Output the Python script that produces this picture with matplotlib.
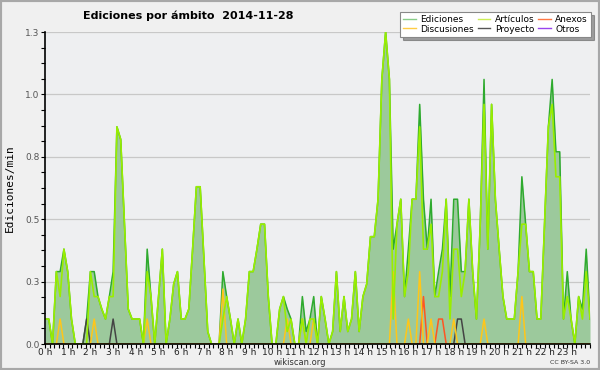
import numpy as np
import matplotlib
matplotlib.use('Agg')
import matplotlib.pyplot as plt
from matplotlib.patches import Rectangle
from matplotlib.ticker import MultipleLocator, FuncFormatter

# edits per minute, one sample every 10 minutes from 00:00 to 24:00
ediciones = [0.10, 0.10, 0, 0.29, 0.29, 0.38, 0.29, 0.10, 0, 0, 0, 0.10,
             0.29, 0.29, 0.19, 0.14, 0.10, 0.19, 0.29, 0.87, 0.82, 0.48, 0.14, 0.10,
             0.10, 0.10, 0, 0.38, 0.19, 0, 0.19, 0.38, 0, 0.10, 0.24, 0.29,
             0.10, 0.10, 0.14, 0.38, 0.63, 0.63, 0.34, 0.05, 0, 0, 0, 0.29,
             0.19, 0.10, 0, 0.10, 0, 0.10, 0.29, 0.29, 0.38, 0.48, 0.48, 0.19,
             0, 0, 0.14, 0.19, 0.14, 0.10, 0, 0, 0.19, 0.05, 0.10, 0.19,
             0, 0.19, 0.10, 0, 0.05, 0.29, 0.05, 0.19, 0.05, 0.10, 0.29, 0.05,
             0.19, 0.24, 0.43, 0.43, 0.58, 1.06, 1.25, 1.06, 0.38, 0.48, 0.58, 0.19,
             0.38, 0.58, 0.58, 0.96, 0.58, 0.38, 0.58, 0.19, 0.29, 0.38, 0.58, 0.19,
             0.58, 0.58, 0.29, 0.29, 0.58, 0.29, 0.10, 0.48, 1.06, 0.38, 0.96, 0.58,
             0.38, 0.19, 0.10, 0.10, 0.10, 0.29, 0.67, 0.48, 0.29, 0.29, 0.10, 0.10,
             0.48, 0.87, 1.06, 0.77, 0.77, 0.10, 0.29, 0.10, 0, 0.19, 0.14, 0.38,
             0.10]
articulos = [0.10, 0.10, 0, 0.29, 0.19, 0.38, 0.29, 0.10, 0, 0, 0, 0,
             0.29, 0.19, 0.19, 0.14, 0.10, 0.19, 0.19, 0.87, 0.82, 0.48, 0.14, 0.10,
             0.10, 0.10, 0, 0.29, 0.19, 0, 0.19, 0.38, 0, 0.10, 0.24, 0.29,
             0.10, 0.10, 0.14, 0.38, 0.63, 0.63, 0.34, 0.05, 0, 0, 0, 0.10,
             0.19, 0.10, 0, 0.10, 0, 0.10, 0.29, 0.29, 0.38, 0.48, 0.48, 0.19,
             0, 0, 0.14, 0.19, 0.05, 0.10, 0, 0, 0.10, 0, 0.10, 0.10,
             0, 0.19, 0.10, 0, 0.05, 0.29, 0.05, 0.19, 0.05, 0.10, 0.29, 0.05,
             0.19, 0.24, 0.43, 0.43, 0.58, 1.06, 1.25, 1.06, 0.10, 0.48, 0.58, 0.19,
             0.29, 0.58, 0.58, 0.87, 0.38, 0.38, 0.48, 0.19, 0.19, 0.29, 0.58, 0.10,
             0.38, 0.38, 0.19, 0.29, 0.58, 0.29, 0.10, 0.48, 0.96, 0.38, 0.96, 0.58,
             0.38, 0.19, 0.10, 0.10, 0.10, 0.29, 0.48, 0.48, 0.29, 0.29, 0.10, 0.10,
             0.48, 0.87, 0.96, 0.67, 0.67, 0.10, 0.19, 0.10, 0, 0.19, 0.10, 0.29,
             0.10]
discusiones = [0, 0, 0, 0, 0.10, 0, 0, 0, 0, 0, 0, 0,
               0, 0.10, 0, 0, 0, 0, 0, 0, 0, 0, 0, 0,
               0, 0, 0, 0.10, 0, 0, 0, 0, 0, 0, 0, 0,
               0, 0, 0, 0, 0, 0, 0, 0, 0, 0, 0, 0.22,
               0, 0, 0, 0, 0, 0, 0, 0, 0, 0, 0, 0,
               0, 0, 0, 0, 0.10, 0, 0, 0, 0.10, 0, 0, 0.10,
               0, 0, 0, 0, 0, 0, 0, 0, 0, 0, 0, 0,
               0, 0, 0, 0, 0, 0, 0, 0, 0.29, 0, 0, 0,
               0.10, 0, 0, 0.29, 0, 0, 0.10, 0, 0, 0, 0, 0,
               0.10, 0, 0, 0, 0, 0, 0, 0, 0.10, 0, 0, 0,
               0, 0, 0, 0, 0, 0, 0.19, 0, 0, 0, 0, 0,
               0, 0, 0, 0, 0, 0, 0, 0, 0, 0, 0, 0,
               0]
anexos = [0] * 100 + [0.19, 0, 0, 0, 0.10, 0.10] + [0] * 39
proyecto = ([0] * 11 + [0.10] + [0] * 6 + [0.10] + [0] * 90 + [0.10, 0.10] + [0] * 34)
otros = [0] * 145

hours = np.arange(len(ediciones)) / 6.0
hour_labels = ['%d h' % h for h in range(24)]

fig = plt.figure(figsize=(6, 3.7), dpi=100, facecolor='#f0f0f0')
ax = fig.add_axes([45/600, 26/370, 545/600, 312/370])
ax.set_facecolor('#eeeff1')

ax.fill_between(hours, 0, ediciones, color='#9cc99c', lw=0)
ax.plot(hours, ediciones, color='#2eaa2e', lw=1.1, label='Ediciones')
ax.plot(hours, otros, color='#9944ee', lw=1.1, label='Otros')
ax.plot(hours, proyecto, color='#444444', lw=1.1, label='Proyecto')
ax.plot(hours, anexos, color='#ff5522', lw=1.1, label='Anexos')
ax.plot(hours, discusiones, color='#ffc619', lw=1.1, label='Discusiones')
ax.plot(hours, articulos, color='#99ee00', lw=1.2, label='Artículos')

ax.set_xlim(0, 24)
ax.set_ylim(0, 1.25)
ax.yaxis.set_major_locator(MultipleLocator(0.25))
ax.yaxis.set_minor_locator(MultipleLocator(0.0625))
ax.yaxis.set_major_formatter(FuncFormatter(lambda v, p: '%.1f' % (v + 1e-9)))
ax.set_xticks(range(24))
ax.set_xticklabels(hour_labels)
ax.xaxis.set_minor_locator(MultipleLocator(0.2))
ax.grid(axis='y', color='#c8c8c8', lw=0.9)
ax.set_axisbelow(True)
for s in ['top', 'right']:
    ax.spines[s].set_visible(False)
ax.spines['left'].set_linewidth(1.2)
ax.spines['bottom'].set_linewidth(1.2)
ax.tick_params(axis='both', which='both', direction='out', length=3, width=0.8)
ax.tick_params(axis='y', labelsize=6.5, labelcolor='#555555', pad=1)
ax.tick_params(axis='x', labelsize=6.5, labelcolor='#222222', pad=0)
ax.set_ylabel('Ediciones/min', family='DejaVu Sans Mono', fontsize=8, labelpad=7)

fig.text(188/600, 1 - 16/370, 'Ediciones por ámbito  2014-11-28', ha='center', va='center',
         fontsize=8, fontweight='bold')
fig.text(300/600, 1 - 362.5/370, 'wikiscan.org', ha='center', va='center', fontsize=6, color='#333333')
fig.text(590/600, 1 - 362.5/370, 'CC BY-SA 3.0', ha='right', va='center', fontsize=4.5, color='#333333')

h, l = ax.get_legend_handles_labels()
order = ['Ediciones', 'Discusiones', 'Artículos', 'Proyecto', 'Anexos', 'Otros']
hh = [h[l.index(o)] for o in order]
leg_colors = {'Ediciones': '#88cc88', 'Discusiones': '#ffcc44', 'Artículos': '#ccee55',
              'Proyecto': '#555555', 'Anexos': '#ff7744', 'Otros': '#9944ee'}
leg = fig.legend(hh, order, ncol=3, loc='upper right', bbox_to_anchor=(591/600, 1 - 12/370),
                 fontsize=6.5, frameon=True, fancybox=False, shadow=True, handlelength=1.4,
                 handletextpad=0.5, columnspacing=0.4, labelspacing=0.05, borderpad=0.35,
                 borderaxespad=0)
leg.get_frame().set_edgecolor('#888888')
leg.get_frame().set_linewidth(0.8)
for line, name in zip(leg.get_lines(), order):
    line.set_color(leg_colors[name])
    line.set_linewidth(1.0)

fig.patches.append(Rectangle((0, 0), 1, 1, transform=fig.transFigure, fill=False,
                             edgecolor='#a8a8a8', lw=3))

fig.savefig('out.png', dpi=100, facecolor=fig.get_facecolor())
